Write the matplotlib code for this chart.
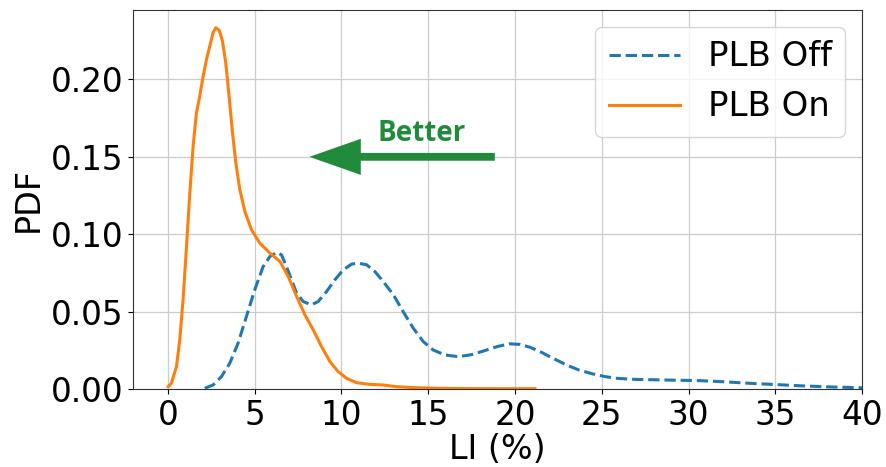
import matplotlib
matplotlib.use("Agg")
import matplotlib.pyplot as plt
from matplotlib.patches import FancyArrowPatch

# PLB Off (dashed blue) density curve
off_x = [2.13, 2.61, 3.09, 3.57, 4.05, 4.53, 5.01, 5.49, 5.88, 6.26, 6.55, 6.84, 7.13, 7.42,
         7.80, 8.28, 8.66, 9.15, 9.63, 10.11, 10.59, 10.97, 11.45, 11.93, 12.41, 13.0, 13.56,
         14.14, 14.72, 15.29, 15.97, 16.73, 17.5, 18.17, 19.0, 19.7, 20.3, 20.86, 21.44,
         22.2, 22.98, 23.7, 24.5, 25.2, 25.86, 27.0, 28.74, 30.66, 32.0, 33.5, 35.0, 36.4,
         38.0, 40.0]
off_y = [0.0005, 0.0026, 0.0080, 0.0166, 0.0296, 0.0468, 0.0641, 0.079, 0.0856, 0.0882,
         0.0867, 0.079, 0.0706, 0.062, 0.0565, 0.0544, 0.0565, 0.063, 0.0706, 0.077, 0.0807,
         0.0813, 0.0803, 0.0759, 0.0695, 0.0608, 0.050, 0.0393, 0.0306, 0.0252, 0.022,
         0.0209, 0.0222, 0.0245, 0.0275, 0.0292, 0.0288, 0.027, 0.0242, 0.0198, 0.0155,
         0.0122, 0.0097, 0.0080, 0.0069, 0.0062, 0.0058, 0.0054, 0.0047, 0.0037, 0.0029,
         0.0021, 0.0014, 0.0008]

# PLB On (solid orange) density curve
on_x = [0.02, 0.21, 0.50, 0.69, 0.88, 1.08, 1.27, 1.46, 1.65, 1.84, 2.04, 2.23, 2.42, 2.61,
        2.77, 2.96, 3.15, 3.34, 3.53, 3.73, 3.92, 4.15, 4.44, 4.82, 5.30, 5.88, 6.46, 6.94,
        7.42, 7.90, 8.38, 8.86, 9.34, 9.82, 10.30, 10.87, 11.64, 12.41, 13.18, 14.2, 15.5,
        17.0, 19.0, 21.15]
on_y = [0.0015, 0.0037, 0.0144, 0.0317, 0.0576, 0.0921, 0.1267, 0.1568, 0.1784, 0.1892,
        0.2022, 0.2129, 0.2216, 0.2302, 0.2334, 0.2319, 0.2248, 0.2108, 0.1892, 0.1655,
        0.1461, 0.1288, 0.1148, 0.1029, 0.0943, 0.0878, 0.0824, 0.0727, 0.0598, 0.0479,
        0.0382, 0.0274, 0.0177, 0.0112, 0.0069, 0.0041, 0.0030, 0.0026, 0.0015, 0.0009,
        0.0005, 0.0003, 0.0002, 0.0002]

series_labels = ["PLB Off", "PLB On"]
x_ticks = [0, 5, 10, 15, 20, 25, 30, 35, 40]
y_ticks = [0.00, 0.05, 0.10, 0.15, 0.20]

fig = plt.figure(figsize=(8.87, 4.67), dpi=100)
ax = fig.add_axes([0.150, 0.167, 0.822, 0.812])

ax.plot(off_x, off_y, color="#1f77b4", linestyle="--", linewidth=2.2, label=series_labels[0])
ax.plot(on_x, on_y, color="#ff7f0e", linestyle="-", linewidth=2.2, label=series_labels[1])

ax.set_xlim(-2, 40)
ax.set_ylim(0, 0.245)
ax.set_xticks(x_ticks)
ax.set_yticks(y_ticks)
ax.set_yticklabels([f"{v:.2f}" for v in y_ticks])
ax.tick_params(labelsize=23.5)
ax.grid(True, color="#cccccc", linewidth=0.9)
ax.set_axisbelow(True)
ax.set_xlabel("LI (%)", fontsize=24, labelpad=1)
ax.set_ylabel("PDF", fontsize=24, labelpad=4)
for s in ax.spines.values():
    s.set_color("#333333")

ax.legend(loc="upper right", fontsize=24.5, handlelength=2.1, framealpha=0.8)

green = "#1f8b3b"
arrow = FancyArrowPatch((19.0, 0.150), (8.0, 0.150),
                        arrowstyle="simple,tail_width=5.6,head_width=26,head_length=37",
                        mutation_scale=1, color=green, lw=0)
ax.add_patch(arrow)
ax.text(14.6, 0.1650, "Better", color=green, fontsize=20, fontweight="bold",
        family=["Open Sans", "DejaVu Sans"], ha="center", va="center")

fig.savefig("out.png", dpi=100)
